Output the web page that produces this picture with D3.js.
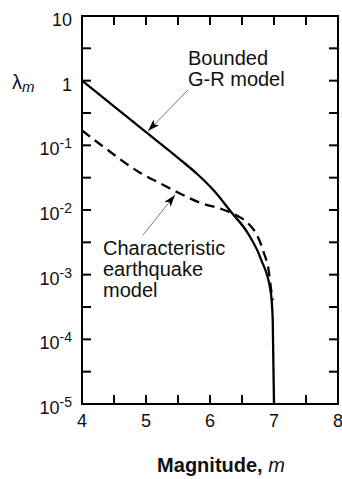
<!DOCTYPE html>
<html>
<head>
<meta charset="utf-8">
<script src="https://cdn.jsdelivr.net/npm/d3@7/dist/d3.min.js"></script>
<style>
  html, body { margin: 0; padding: 0; background: #fff; }
  svg { display: block; font-family: "Liberation Sans", Arial, Helvetica, sans-serif; }
</style>
</head>
<body>
<script>
// Magnitude-recurrence curves: annual rate of exceedance vs magnitude
const boundedGR = [
  [4.0, 1.0], [4.5, 0.40], [5.0, 0.16], [5.5, 0.064], [5.8, 0.036],
  [6.06, 0.020], [6.33, 0.0093], [6.59, 0.0044], [6.8, 0.0017],
  [6.95, 5.3e-4], [6.98, 2.0e-4], [7.0, 1e-5]
];
const characteristic = [
  [4.0, 0.17], [4.4, 0.085], [4.9, 0.038], [5.25, 0.025], [5.53, 0.018],
  [5.84, 0.013], [6.16, 0.0105], [6.41, 0.0083], [6.59, 0.0063],
  [6.75, 0.0038], [6.84, 0.0022], [6.92, 0.0011], [6.95, 6.4e-4], [6.98, 4.0e-4]
];
const xTickLabels = ["4", "5", "6", "7", "8"];
const xTickValues = [4, 5, 6, 7, 8];
const yTickExponents = [1, 0, -1, -2, -3, -4, -5];
// tick marks: every half unit of magnitude, every half decade of rate
const xTickMarks = [4.5, 5, 5.5, 6, 6.5, 7, 7.5];
const yTickExpMarks = [-4.5, -4, -3.5, -3, -2.5, -2, -1.5, -1, -0.5, 0, 0.5];

const W = 342, H = 479;
const plotLeft = 82, plotRight = 338, plotTop = 16, plotBottom = 404;

const svg = d3.select("body").append("svg").attr("width", W).attr("height", H);

const x = d3.scaleLinear().domain([4, 8]).range([plotLeft, plotRight]);
const y = d3.scaleLog().domain([1e-5, 10]).range([plotBottom, plotTop]);

// inward tick marks on all four sides
const tickLen = 9;
const yTickVals = yTickExpMarks.map(e => Math.pow(10, e));
const tickG = svg.append("g");
function tick(x1, y1, x2, y2) {
  tickG.append("line")
    .attr("x1", x1).attr("y1", y1).attr("x2", x2).attr("y2", y2)
    .attr("stroke", "#000").attr("stroke-width", 2);
}
xTickMarks.forEach(v => {
  tick(x(v), plotBottom, x(v), plotBottom - tickLen);
  tick(x(v), plotTop, x(v), plotTop + tickLen);
});
yTickVals.forEach(v => {
  tick(plotLeft, y(v), plotLeft + tickLen, y(v));
  tick(plotRight, y(v), plotRight - tickLen, y(v));
});

// frame
svg.append("rect")
  .attr("x", plotLeft).attr("y", plotTop)
  .attr("width", plotRight - plotLeft).attr("height", plotBottom - plotTop)
  .attr("fill", "none").attr("stroke", "#000").attr("stroke-width", 2);

// x tick labels
svg.append("g").selectAll("text").data(xTickValues).join("text")
  .attr("x", d => x(d)).attr("y", plotBottom + 23)
  .attr("text-anchor", "middle")
  .attr("font-size", 18).attr("fill", "#111")
  .text((d, i) => xTickLabels[i]);

// y tick labels (powers of ten)
const yl = svg.append("g");
yTickExponents.forEach(e => {
  const t = yl.append("text")
    .attr("x", 72).attr("y", y(Math.pow(10, e)) + 10)
    .attr("text-anchor", "end")
    .attr("font-size", 18).attr("fill", "#111");
  if (e === 1) t.text("10");
  else if (e === 0) t.text("1");
  else {
    t.append("tspan").text("10");
    t.append("tspan").attr("font-size", 14).attr("dy", -7).text(String(e));
  }
});

// axis titles
const yTitle = svg.append("text").attr("x", 12).attr("y", 89)
  .attr("font-size", 20).attr("fill", "#111");
yTitle.append("tspan").text("λ");
yTitle.append("tspan").attr("font-size", 15).attr("font-style", "italic").attr("dy", 3).text("m");

const xTitle = svg.append("text").attr("x", 221).attr("y", 472)
  .attr("text-anchor", "middle").attr("font-size", 20).attr("font-weight", "bold").attr("fill", "#111");
xTitle.append("tspan").text("Magnitude, ");
xTitle.append("tspan").attr("font-style", "italic").attr("font-weight", "normal").text("m");

// curves
const line = d3.line()
  .x(d => x(d[0])).y(d => y(d[1]))
  .curve(d3.curveMonotoneX);

svg.append("path").datum(boundedGR)
  .attr("d", line).attr("fill", "none")
  .attr("stroke", "#000").attr("stroke-width", 2.3);

svg.append("path").datum(characteristic)
  .attr("d", line).attr("fill", "none")
  .attr("stroke", "#000").attr("stroke-width", 2.3)
  .attr("stroke-dasharray", "10,6");

// annotation arrows
svg.append("defs").append("marker")
  .attr("id", "head").attr("viewBox", "0 0 12 8")
  .attr("refX", 12).attr("refY", 4)
  .attr("markerWidth", 12).attr("markerHeight", 8)
  .attr("markerUnits", "userSpaceOnUse")
  .attr("orient", "auto")
  .append("path").attr("d", "M0,0 L12,4 L0,8 L3,4 z").attr("fill", "#000");

svg.append("line")
  .attr("x1", 188).attr("y1", 90).attr("x2", 148).attr("y2", 131)
  .attr("stroke", "#777").attr("stroke-width", 1)
  .attr("marker-end", "url(#head)");
svg.append("line")
  .attr("x1", 143).attr("y1", 235).attr("x2", 175).attr("y2", 195)
  .attr("stroke", "#777").attr("stroke-width", 1)
  .attr("marker-end", "url(#head)");

// annotation labels
const ann = svg.append("g").attr("font-size", 20).attr("fill", "#111");
ann.append("text").attr("x", 188).attr("y", 65).text("Bounded");
ann.append("text").attr("x", 188).attr("y", 86).text("G-R model");
ann.append("text").attr("x", 103).attr("y", 255).text("Characteristic");
ann.append("text").attr("x", 103).attr("y", 276).text("earthquake");
ann.append("text").attr("x", 103).attr("y", 297).text("model");
</script>
</body>
</html>
